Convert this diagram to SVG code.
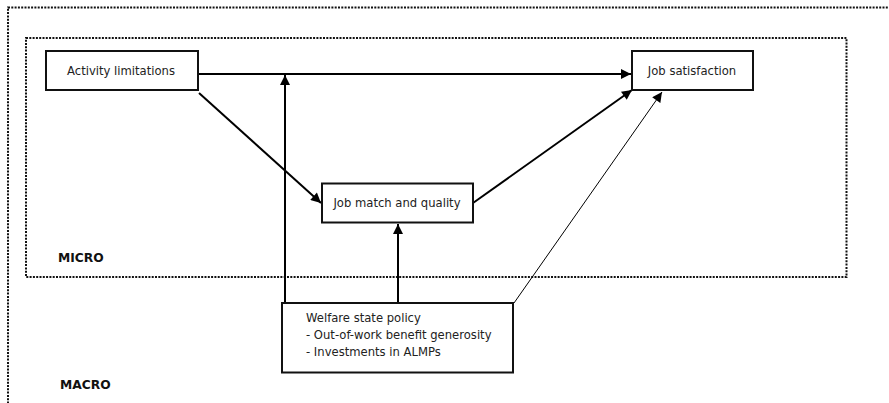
<svg xmlns="http://www.w3.org/2000/svg" width="889" height="403" viewBox="0 0 889 403">
<style>
.frame{fill:none;stroke:#111;stroke-width:2;stroke-dasharray:2 1.3}
.box{fill:#fff;stroke:#111;stroke-width:2}
.t{font-family:"DejaVu Sans",Verdana,sans-serif;font-size:11.6px;fill:#222}
.lab{font-family:"DejaVu Sans",Verdana,sans-serif;font-size:12.3px;font-weight:bold;fill:#111}
.c{fill:none;stroke:#000;stroke-width:2}
.thin{fill:none;stroke:#000;stroke-width:1}
</style>
<defs>
<marker id="ah" viewBox="0 0 10 10" refX="10" refY="5" markerWidth="5.5" markerHeight="5" markerUnits="strokeWidth" orient="auto">
<path d="M0,0 L10,5 L0,10 z" fill="#000"/>
</marker>
<marker id="ahThin" viewBox="0 0 10 10" refX="10" refY="5" markerWidth="12" markerHeight="10" markerUnits="strokeWidth" orient="auto">
<path d="M0,0 L10,5 L0,10 z" fill="#000"/>
</marker>
</defs>
<rect width="889" height="403" fill="#fff"/>
<rect class="frame" x="8" y="7.5" width="900" height="420"/>
<rect class="frame" x="26" y="38" width="820.5" height="239"/>
<text class="lab" x="58" y="262">MICRO</text>
<text class="lab" x="60" y="389">MACRO</text>
<g id="connectors">
<path class="c" d="M198,74 L631,74" marker-end="url(#ah)"/>
<path class="c" d="M285,302 L285,75" marker-end="url(#ah)"/>
<path class="c" d="M199,93 L321,203" marker-end="url(#ah)"/>
<path class="c" d="M473,203 L632,90" marker-end="url(#ah)"/>
<path class="c" d="M398,302 L398,224" marker-end="url(#ah)"/>
<path class="thin" d="M514,303 L662,92" marker-end="url(#ahThin)"/>
</g>
<g id="activity">
<rect class="box" x="46" y="51" width="152" height="39"/>
<text class="t" x="121" y="75" text-anchor="middle">Activity limitations</text>
</g>
<g id="jobsat">
<rect class="box" x="632" y="51" width="121" height="39"/>
<text class="t" x="692" y="75" text-anchor="middle">Job satisfaction</text>
</g>
<g id="jobmatch">
<rect class="box" x="322" y="183.5" width="151" height="39"/>
<text class="t" x="397" y="207" text-anchor="middle">Job match and quality</text>
</g>
<g id="welfare">
<rect class="box" x="282" y="303" width="231" height="69.5"/>
<text class="t" x="306" y="322">Welfare state policy</text>
<text class="t" x="306" y="339">- Out-of-work benefit generosity</text>
<text class="t" x="306" y="356">- Investments in ALMPs</text>
</g>
</svg>
